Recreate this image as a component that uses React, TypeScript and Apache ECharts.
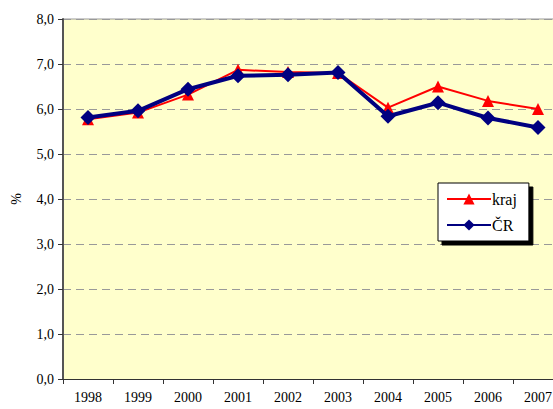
import React, { useEffect, useRef } from "react";
import * as echarts from "echarts";

const categories = ["1998", "1999", "2000", "2001", "2002", "2003", "2004", "2005", "2006", "2007"];
const krajValues = [5.77, 5.92, 6.32, 6.87, 6.82, 6.8, 6.03, 6.5, 6.18, 6.0];
const crValues = [5.81, 5.96, 6.44, 6.74, 6.76, 6.81, 5.84, 6.14, 5.8, 5.59];
const seriesNames = ["kraj", "ČR"];

const FONT = "Liberation Serif, Times New Roman, serif";

export default function App() {
  const ref = useRef<HTMLDivElement>(null);
  useEffect(() => {
    if (!ref.current) return;
    document.body.style.margin = "0";
    const chart = echarts.init(ref.current, undefined, { renderer: "svg" });
    chart.setOption({
      animation: false,
      backgroundColor: "#ffffff",
      textStyle: { fontFamily: FONT },
      grid: {
        left: 63,
        top: 19,
        right: -10,
        bottom: 30,
        backgroundColor: "#FFFFCC",
        show: true,
        borderWidth: 0,
        outerBoundsMode: "none",
        containLabel: false,
      },
      legend: {
        orient: "vertical",
        left: 438,
        top: 183,
        padding: [8, 12, 8, 8],
        itemGap: 10,
        itemWidth: 44,
        itemHeight: 14,
        backgroundColor: "#ffffff",
        borderColor: "#000000",
        borderWidth: 1,
        borderRadius: 0,
        shadowColor: "#000000",
        shadowOffsetX: 4,
        shadowOffsetY: 4,
        shadowBlur: 0,
        textStyle: { fontFamily: FONT, fontSize: 16, color: "#000", padding: [0, 0, 0, -4] },
        data: seriesNames,
      },
      xAxis: {
        type: "category",
        data: categories,
        boundaryGap: true,
        axisLine: { lineStyle: { color: "#333", width: 1 } },
        axisTick: { show: true, length: 5, lineStyle: { color: "#333" } },
        axisLabel: { fontFamily: FONT, fontSize: 14, color: "#000", margin: 11 },
        splitLine: { show: false },
      },
      yAxis: {
        type: "value",
        min: 0,
        max: 8,
        interval: 1,
        name: "%",
        nameLocation: "middle",
        nameGap: 40,
        nameRotate: 90,
        nameTextStyle: { fontFamily: FONT, fontSize: 14, color: "#000" },
        axisLine: { show: true, lineStyle: { color: "#555", width: 2 } },
        axisTick: { show: true, length: 5, lineStyle: { color: "#333" } },
        axisLabel: {
          fontFamily: FONT,
          fontSize: 14,
          color: "#000",
          margin: 9,
          formatter: (v: number) => v.toFixed(1).replace(".", ","),
        },
        splitLine: { show: true, lineStyle: { color: "#999", type: [8, 5], width: 1 } },
      },
      series: [
        {
          name: seriesNames[0],
          type: "line",
          data: krajValues,
          color: "#FF0000",
          lineStyle: { width: 2, color: "#FF0000" },
          symbol: "triangle",
          symbolSize: 12,
          itemStyle: { color: "#FF0000" },
          z: 2,
        },
        {
          name: seriesNames[1],
          type: "line",
          data: crValues,
          color: "#000080",
          lineStyle: { width: 4, color: "#000080" },
          symbol: "diamond",
          symbolSize: 15,
          itemStyle: { color: "#000080" },
          z: 3,
        },
      ],
      graphic: [
        { type: "line", shape: { x1: 63, y1: 19, x2: 553, y2: 19 }, style: { stroke: "#999", lineWidth: 1 } },
      ],
    });
    return () => chart.dispose();
  }, []);
  return <div ref={ref} style={{ width: 553, height: 409 }} />;
}
